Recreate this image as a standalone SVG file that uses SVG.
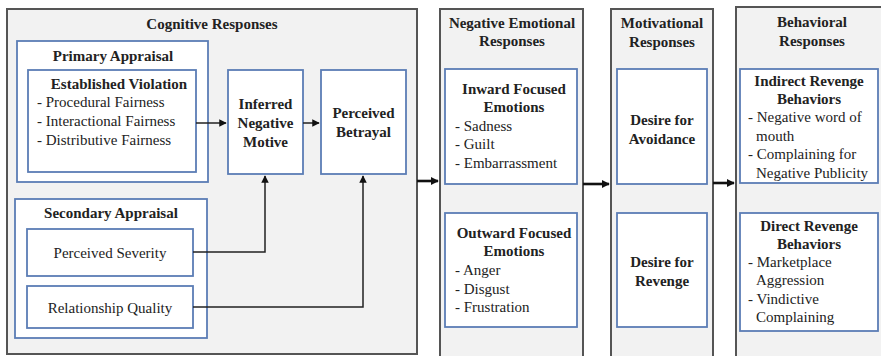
<svg xmlns="http://www.w3.org/2000/svg" width="881" height="356" viewBox="0 0 881 356">
<style>
.col{fill:#f2f2f2;stroke:#555;stroke-width:2}
.box{fill:#fff;stroke:#5b7db5;stroke-width:1.8}
text{font-family:"Liberation Serif","Times New Roman",serif;font-size:15px;fill:#222}
.b{font-weight:bold}
.c{text-anchor:middle}
.ln{fill:none;stroke:#222;stroke-width:1.5}
.ln2{fill:none;stroke:#111;stroke-width:2.6}
</style>
<defs>
<marker id="ah" viewBox="0 0 10 10" refX="9" refY="5" markerWidth="5" markerHeight="5" orient="auto" markerUnits="strokeWidth">
<path d="M0,0 L10,5 L0,10 z" fill="#111"/>
</marker>
<marker id="ah2" viewBox="0 0 10 10" refX="9" refY="5" markerWidth="3.2" markerHeight="3.2" orient="auto" markerUnits="strokeWidth">
<path d="M0,0 L10,5 L0,10 z" fill="#111"/>
</marker>
</defs>
<rect width="881" height="356" fill="#fff"/>

<g id="cognitive">
<rect class="col" x="7" y="9" width="410" height="345"/>
<text class="b c" x="212" y="29">Cognitive Responses</text>
</g>
<g id="primary">
<rect class="box" x="17" y="41" width="191" height="141"/>
<text class="b c" x="113" y="61">Primary Appraisal</text>
</g>
<g id="established">
<rect class="box" x="28" y="70" width="168" height="102"/>
<text class="b c" x="119" y="89">Established Violation</text>
<text x="37" y="107">- Procedural Fairness</text>
<text x="37" y="126">- Interactional Fairness</text>
<text x="37" y="145">- Distributive Fairness</text>
</g>
<g id="inferred">
<rect class="box" x="228" y="70" width="75" height="104"/>
<text class="b c" x="265.5" y="109">Inferred</text>
<text class="b c" x="265.5" y="128">Negative</text>
<text class="b c" x="265.5" y="147">Motive</text>
</g>
<g id="betrayal">
<rect class="box" x="321" y="70" width="85" height="104"/>
<text class="b c" x="363.5" y="118">Perceived</text>
<text class="b c" x="363.5" y="137">Betrayal</text>
</g>
<g id="secondary">
<rect class="box" x="15" y="199" width="192" height="139"/>
<text class="b c" x="111" y="218">Secondary Appraisal</text>
</g>
<g id="severity">
<rect class="box" x="27" y="229" width="166" height="47"/>
<text class="c" x="110" y="258">Perceived Severity</text>
</g>
<g id="quality">
<rect class="box" x="27" y="286" width="166" height="42"/>
<text class="c" x="110" y="313">Relationship Quality</text>
</g>

<g id="emotional">
<rect class="col" x="440" y="9" width="143" height="360"/>
<text class="b c" x="512" y="28">Negative Emotional</text>
<text class="b c" x="512" y="46">Responses</text>
</g>
<g id="inward">
<rect class="box" x="445" y="69" width="132" height="115"/>
<text class="b c" x="514" y="94">Inward Focused</text>
<text class="b c" x="514" y="112">Emotions</text>
<text x="455" y="131">- Sadness</text>
<text x="455" y="149">- Guilt</text>
<text x="455" y="168">- Embarrassment</text>
</g>
<g id="outward">
<rect class="box" x="445" y="213" width="132" height="114"/>
<text class="b c" x="514" y="238">Outward Focused</text>
<text class="b c" x="514" y="256">Emotions</text>
<text x="455" y="275">- Anger</text>
<text x="455" y="294">- Disgust</text>
<text x="455" y="312">- Frustration</text>
</g>

<g id="motivational">
<rect class="col" x="611" y="9" width="102" height="360"/>
<text class="b c" x="662" y="28">Motivational</text>
<text class="b c" x="662" y="47">Responses</text>
</g>
<g id="avoidance">
<rect class="box" x="617" y="69" width="90" height="115"/>
<text class="b c" x="662" y="125">Desire for</text>
<text class="b c" x="662" y="144">Avoidance</text>
</g>
<g id="revenge">
<rect class="box" x="617" y="213" width="90" height="114"/>
<text class="b c" x="662" y="267">Desire for</text>
<text class="b c" x="662" y="286">Revenge</text>
</g>

<g id="behavioral">
<rect class="col" x="736" y="7" width="160" height="362"/>
<text class="b c" x="812" y="27">Behavioral</text>
<text class="b c" x="812" y="46">Responses</text>
</g>
<g id="indirect">
<rect class="box" x="740" y="69" width="138" height="114"/>
<text class="b c" x="809" y="86">Indirect Revenge</text>
<text class="b c" x="809" y="104">Behaviors</text>
<text x="748" y="122">- Negative word of</text>
<text x="756" y="141">mouth</text>
<text x="748" y="159">- Complaining for</text>
<text x="756" y="178">Negative Publicity</text>
</g>
<g id="direct">
<rect class="box" x="740" y="213" width="138" height="118"/>
<text class="b c" x="809" y="231">Direct Revenge</text>
<text class="b c" x="809" y="249">Behaviors</text>
<text x="748" y="267">- Marketplace</text>
<text x="756" y="285">Aggression</text>
<text x="748" y="304">- Vindictive</text>
<text x="756" y="322">Complaining</text>
</g>

<g id="connectors">
<path class="ln" d="M196,123 H226" marker-end="url(#ah)"/>
<path class="ln" d="M303,123 H319" marker-end="url(#ah)"/>
<path class="ln" d="M193,252 H265 V176" marker-end="url(#ah)"/>
<path class="ln" d="M193,307 H363 V176" marker-end="url(#ah)"/>
<path class="ln2" d="M417,181 H438" marker-end="url(#ah2)"/>
<path class="ln2" d="M583,184 H609" marker-end="url(#ah2)"/>
<path class="ln2" d="M713,183 H734" marker-end="url(#ah2)"/>
</g>
</svg>
